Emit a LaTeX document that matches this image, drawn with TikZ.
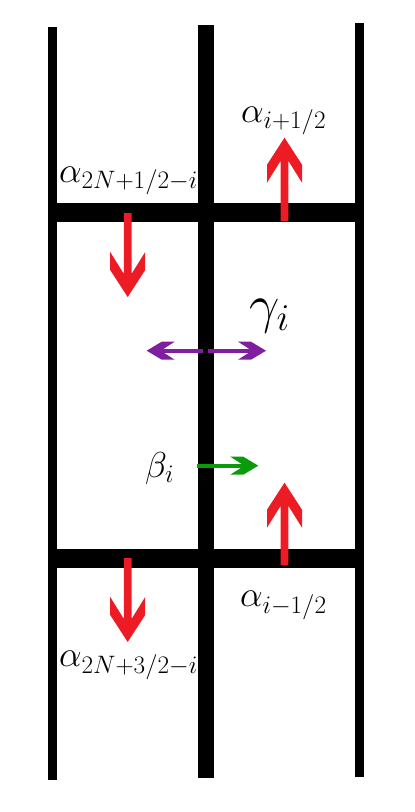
\documentclass[tikz,border=0pt]{standalone}
\usepackage{fix-cm}
\definecolor{arrred}{RGB}{237,28,36}
\definecolor{arrpurple}{RGB}{128,30,160}
\definecolor{arrgreen}{RGB}{10,155,10}
\begin{document}
\begin{tikzpicture}[x=1pt,y=-1pt,
  lbl/.style={inner sep=0pt, font=\fontsize{36}{42}\selectfont},
  glbl/.style={inner sep=0pt, font=\fontsize{54}{60}\selectfont},
  bar/.style={fill=black},
  redarrow/.style={fill=arrred},
  chev/.style={fill=#1},
  shaft/.style={draw=#1, line width=4pt}]
\useasboundingbox (0,0) rectangle (415,812);
% grid
\fill[bar] (48,27) rectangle (57,780);
\fill[bar] (198,25) rectangle (213.5,778);
\fill[bar] (355,23) rectangle (364,777);
\fill[bar] (48,203) rectangle (364,222);
\fill[bar] (48,549) rectangle (364,568);
% red arrows (tip at local origin)
\fill[redarrow, shift={(127.7,297)}] (-3.8,-84) -- (3.8,-84) -- (3.8,-23) -- (17.5,-45) -- (17.5,-27) -- (0,0) -- (-17.5,-27) -- (-17.5,-45) -- (-3.8,-23) -- cycle;
\fill[redarrow, shift={(127.7,642)}] (-3.8,-84) -- (3.8,-84) -- (3.8,-23) -- (17.5,-45) -- (17.5,-27) -- (0,0) -- (-17.5,-27) -- (-17.5,-45) -- (-3.8,-23) -- cycle;
\fill[redarrow, shift={(284.5,137.7)}, rotate=180] (-3.8,-83.3) -- (3.8,-83.3) -- (3.8,-23) -- (17.5,-45) -- (17.5,-27) -- (0,0) -- (-17.5,-27) -- (-17.5,-45) -- (-3.8,-23) -- cycle;
\fill[redarrow, shift={(284.5,482.7)}, rotate=180] (-3.8,-82.3) -- (3.8,-82.3) -- (3.8,-23) -- (17.5,-45) -- (17.5,-27) -- (0,0) -- (-17.5,-27) -- (-17.5,-45) -- (-3.8,-23) -- cycle;
% purple double arrow
\coordinate (pl) at (146.7,350.7);
\coordinate (pr) at (266,350.7);
\draw[shaft=arrpurple] (160,350.7) -- (203.3,350.7);
\draw[shaft=arrpurple] (208.3,350.7) -- (252,350.7);
\fill[chev=arrpurple, shift={(pl)}] (0,0) -- (15,-9) -- (28,-9) -- (14,0) -- (28,9) -- (15,9) -- cycle;
\fill[chev=arrpurple, shift={(pr)}, xscale=-1] (0,0) -- (15,-9) -- (28,-9) -- (14,0) -- (28,9) -- (15,9) -- cycle;
% green arrow
\coordinate (gt) at (258.3,465.7);
\draw[shaft=arrgreen] (197,465.7) -- (246,465.7);
\fill[chev=arrgreen, shift={(gt)}, xscale=-1] (0,0) -- (15,-9) -- (28,-9) -- (14,0) -- (28,9) -- (15,9) -- cycle;
% labels
\node[lbl, anchor=base west] (aip) at (241,122) {$\alpha_{i+1/2}$};
\node[lbl, anchor=base west] (a2n1) at (59,182) {$\alpha_{2N+1/2-i}$};
\node[lbl, anchor=base west] (aim) at (240,606.5) {$\alpha_{i-1/2}$};
\node[lbl, anchor=base west] (a2n3) at (59,666.5) {$\alpha_{2N+3/2-i}$};
\node[lbl, anchor=base west] (beta) at (145,477) {$\beta_i$};
\node[glbl, anchor=base west] (gamma) at (249,322) {$\gamma_i$};
\end{tikzpicture}
\end{document}
